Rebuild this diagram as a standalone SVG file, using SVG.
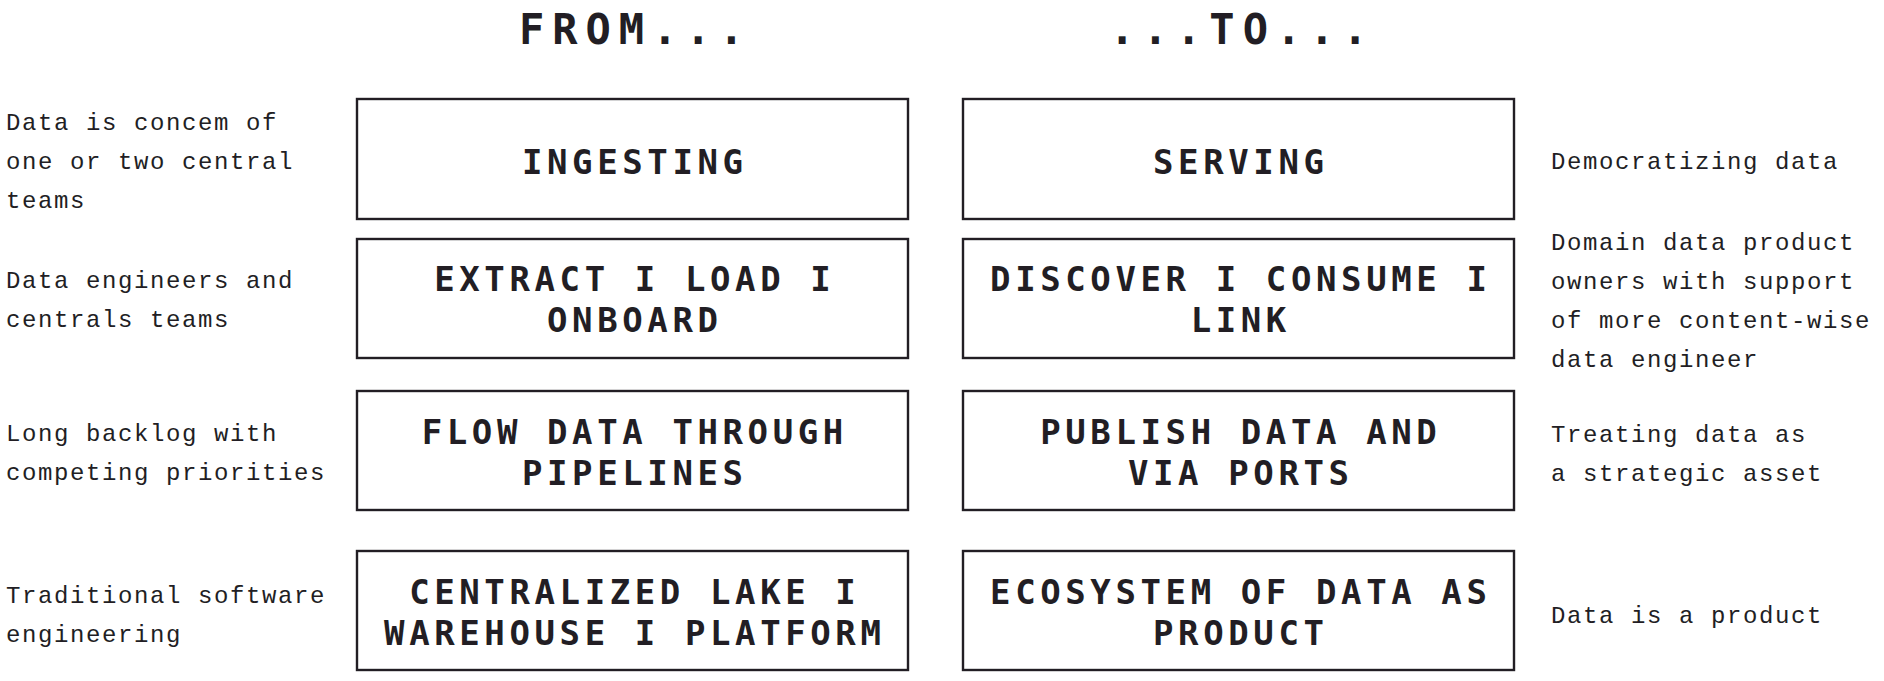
<svg xmlns="http://www.w3.org/2000/svg" width="1884" height="681" viewBox="0 0 1884 681">
<style>
.bg{fill:#ffffff}
.box{fill:#ffffff;stroke:#221e24;stroke-width:2.4}
.title{font-family:"DejaVu Sans Mono","Liberation Mono",monospace;font-weight:bold;font-size:42px;letter-spacing:8px;fill:#221e24}
.lbl{font-family:"DejaVu Sans Mono","Liberation Mono",monospace;font-weight:bold;font-size:34px;letter-spacing:4.6px;fill:#221e24;text-anchor:middle}
.note{font-family:"Liberation Mono","DejaVu Sans Mono",monospace;font-size:24px;letter-spacing:1.6px;fill:#221e24}
</style>
<rect class="bg" x="0" y="0" width="1884" height="681"/>
<g id="titles">
<text class="title" x="519" y="44">FROM...</text>
<text class="title" x="1109.5" y="44">...TO...</text>
</g>
<g id="connectors"></g>
<g id="from-ingesting">
<rect class="box" x="357" y="99" width="551" height="120"/>
<text class="lbl" x="634.8" y="173.5">INGESTING</text>
</g>
<g id="from-extract">
<rect class="box" x="357" y="239" width="551" height="119"/>
<text class="lbl" x="634.8" y="291">EXTRACT I LOAD I</text>
<text class="lbl" x="634.8" y="332">ONBOARD</text>
</g>
<g id="from-flow">
<rect class="box" x="357" y="391" width="551" height="119"/>
<text class="lbl" x="634.8" y="444">FLOW DATA THROUGH</text>
<text class="lbl" x="634.8" y="485">PIPELINES</text>
</g>
<g id="from-centralized">
<rect class="box" x="357" y="551" width="551" height="119"/>
<text class="lbl" x="634.8" y="604">CENTRALIZED LAKE I</text>
<text class="lbl" x="634.8" y="645">WAREHOUSE I PLATFORM</text>
</g>
<g id="to-serving">
<rect class="box" x="963" y="99" width="551" height="120"/>
<text class="lbl" x="1240.8" y="173.5">SERVING</text>
</g>
<g id="to-discover">
<rect class="box" x="963" y="239" width="551" height="119"/>
<text class="lbl" x="1240.8" y="291">DISCOVER I CONSUME I</text>
<text class="lbl" x="1240.8" y="332">LINK</text>
</g>
<g id="to-publish">
<rect class="box" x="963" y="391" width="551" height="119"/>
<text class="lbl" x="1240.8" y="444">PUBLISH DATA AND</text>
<text class="lbl" x="1240.8" y="485">VIA PORTS</text>
</g>
<g id="to-ecosystem">
<rect class="box" x="963" y="551" width="551" height="119"/>
<text class="lbl" x="1240.8" y="604">ECOSYSTEM OF DATA AS</text>
<text class="lbl" x="1240.8" y="645">PRODUCT</text>
</g>
<g id="notes-left">
<text class="note" x="6" y="130">Data is concem of</text>
<text class="note" x="6" y="169">one or two central</text>
<text class="note" x="6" y="208">teams</text>
<text class="note" x="6" y="288">Data engineers and</text>
<text class="note" x="6" y="327">centrals teams</text>
<text class="note" x="6" y="441">Long backlog with</text>
<text class="note" x="6" y="480">competing priorities</text>
<text class="note" x="6" y="603">Traditional software</text>
<text class="note" x="6" y="642">engineering</text>
</g>
<g id="notes-right">
<text class="note" x="1551" y="168.5">Democratizing data</text>
<text class="note" x="1551" y="250">Domain data product</text>
<text class="note" x="1551" y="289">owners with support</text>
<text class="note" x="1551" y="328">of more content-wise</text>
<text class="note" x="1551" y="367">data engineer</text>
<text class="note" x="1551" y="441.5">Treating data as</text>
<text class="note" x="1551" y="480.5">a strategic asset</text>
<text class="note" x="1551" y="622.5">Data is a product</text>
</g>
</svg>
